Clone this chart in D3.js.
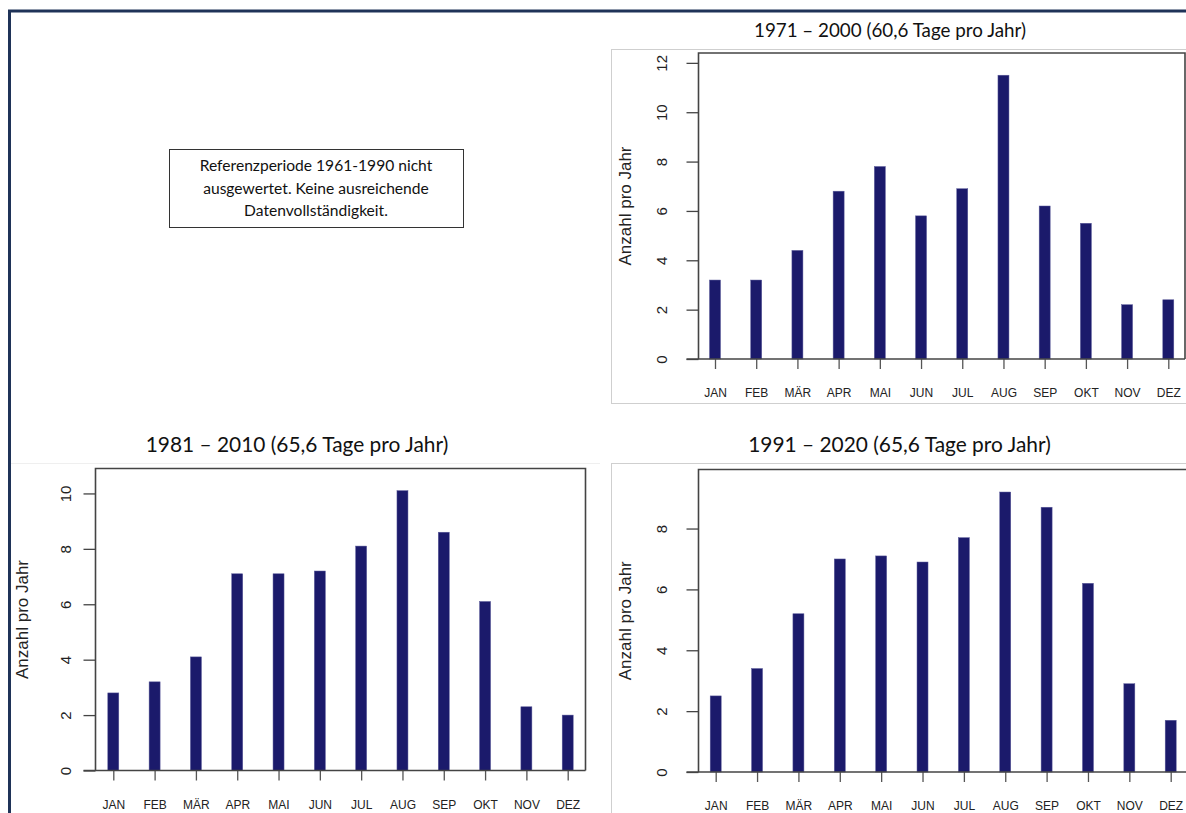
<!DOCTYPE html>
<html>
<head>
<meta charset="utf-8">
<script src="https://cdn.jsdelivr.net/npm/d3@7"></script>
<style>
  body { margin: 0; background: #fff; }
  svg { display: block; }
</style>
</head>
<body>
<div id="chart"></div>
<script>
// monthly counts
var months = ["JAN", "FEB", "MÄR", "APR", "MAI", "JUN", "JUL", "AUG", "SEP", "OKT", "NOV", "DEZ"];
var v1971 = [3.2, 3.2, 4.4, 6.8, 7.8, 5.8, 6.9, 11.5, 6.2, 5.5, 2.2, 2.4];
var v1981 = [2.8, 3.2, 4.1, 7.1, 7.1, 7.2, 8.1, 10.1, 8.6, 6.1, 2.3, 2.0];
var v1991 = [2.5, 3.4, 5.2, 7.0, 7.1, 6.9, 7.7, 9.2, 8.7, 6.2, 2.9, 1.7];
var ticks1971 = [0, 2, 4, 6, 8, 10, 12];
var ticks1981 = [0, 2, 4, 6, 8, 10];
var ticks1991 = [0, 2, 4, 6, 8];
var titles = ["1971 – 2000 (60,6 Tage pro Jahr)", "1981 – 2010 (65,6 Tage pro Jahr)", "1991 – 2020 (65,6 Tage pro Jahr)"];
var noteLines = ["Referenzperiode 1961-1990 nicht", "ausgewertet. Keine ausreichende", "Datenvollständigkeit."];
var yTitle = "Anzahl pro Jahr";

var W = 1186, H = 813;
var barColor = "#1b1a6b";
var titleFont = "Lato, 'Open Sans', sans-serif";
var rFont = "'Liberation Sans', Arial, sans-serif";

var svg = d3.select("#chart").append("svg")
    .attr("width", W)
    .attr("height", H);

// dark page frame (top + left edge)
svg.append("path")
    .attr("d", "M9.5," + H + " V11 H" + W)
    .attr("fill", "none")
    .attr("stroke", "#1f3358")
    .attr("stroke-width", 3);

// note box where the 1961-1990 chart would be
svg.append("rect")
    .attr("x", 169.5).attr("y", 149.5)
    .attr("width", 294).attr("height", 78)
    .attr("fill", "#fff")
    .attr("stroke", "#333")
    .attr("stroke-width", 1);
svg.append("g").selectAll("text")
    .data(noteLines)
    .enter().append("text")
    .attr("x", 316)
    .attr("y", function(d, i) { return 171 + i * 22.5; })
    .attr("text-anchor", "middle")
    .attr("font-family", titleFont)
    .attr("font-size", "15.6px")
    .attr("fill", "#111")
    .text(function(d) { return d; });

// faint edge of the pasted 1981-2010 image
svg.append("line")
    .attr("x1", 11).attr("x2", 600)
    .attr("y1", 463.5).attr("y2", 463.5)
    .attr("stroke", "#efefef");

var panels = [
    {values: v1971, ticks: ticks1971, title: titles[0], ymax: 12.4, titleSize: 18.8,
     left: 698.5, right: 1185, top: 53, bottom: 359, x0: 715, x1: 1168.3,
     titleX: 890, titleY: 37, ylabX: 625, tickX: 662, monthY: 397,
     frame: {x: 611.5, y: 49.5, w: 600, h: 354}, boxRight: true},
    {values: v1981, ticks: ticks1981, title: titles[1], ymax: 10.9, titleSize: 20.9,
     left: 95.5, right: 585.5, top: 468.5, bottom: 770.5, x0: 113.3, x1: 567.7,
     titleX: 297, titleY: 452, ylabX: 22, tickX: 66, monthY: 809,
     frame: null, boxRight: true},
    {values: v1991, ticks: ticks1991, title: titles[2], ymax: 9.94, titleSize: 20.9,
     left: 698.5, right: 1190, top: 469.5, bottom: 772, x0: 715.7, x1: 1170.7,
     titleX: 899.5, titleY: 452, ylabX: 625, tickX: 662, monthY: 810,
     frame: {x: 611.5, y: 463.5, w: 600, h: 400}, boxRight: false}
];

panels.forEach(function(p) {
    var g = svg.append("g");

    if (p.frame) {
        g.append("rect")
            .attr("x", p.frame.x).attr("y", p.frame.y)
            .attr("width", p.frame.w).attr("height", p.frame.h)
            .attr("fill", "none")
            .attr("stroke", "#cfcfcf")
            .attr("stroke-width", 1);
    }

    g.append("text")
        .attr("x", p.titleX).attr("y", p.titleY)
        .attr("text-anchor", "middle")
        .attr("font-family", titleFont)
        .attr("font-size", p.titleSize + "px")
        .attr("fill", "#111")
        .text(p.title);

    var x = d3.scalePoint()
        .domain(months)
        .range([p.x0, p.x1]);
    var y = d3.scaleLinear()
        .domain([0, p.ymax])
        .range([p.bottom, p.top]);

    // bars
    var bw = 11;
    g.selectAll(".bar")
        .data(p.values)
        .enter().append("rect")
        .attr("class", "bar")
        .attr("x", function(d, i) { return x(months[i]) - bw / 2; })
        .attr("y", function(d) { return y(d); })
        .attr("width", bw)
        .attr("height", function(d) { return y(0) - y(d); })
        .attr("fill", barColor)
        .attr("stroke", "#5a5a9a")
        .attr("stroke-width", 0.5);

    // plot box: top, left, right
    var boxPath = "M" + p.left + "," + p.bottom + " V" + p.top + " H" + p.right;
    if (p.boxRight) boxPath += " V" + p.bottom;
    g.append("path")
        .attr("d", boxPath)
        .attr("fill", "none")
        .attr("stroke", "#444")
        .attr("stroke-width", 1.6);

    // y axis, R style with rotated labels
    var yAxis = d3.axisLeft(y)
        .tickValues(p.ticks)
        .tickSize(12)
        .tickFormat(d3.format("d"));
    var ya = g.append("g")
        .attr("transform", "translate(" + p.left + ",0)")
        .call(yAxis);
    ya.select(".domain").remove();
    ya.selectAll(".tick line").attr("stroke", "#444").attr("stroke-width", 1.3);
    ya.selectAll(".tick text")
        .attr("x", null).attr("dy", null)
        .attr("transform", "translate(" + (p.tickX - p.left) + ",0) rotate(-90)")
        .attr("text-anchor", "middle")
        .attr("dy", "0.35em")
        .attr("font-family", rFont)
        .attr("font-size", "15px")
        .attr("fill", "#222");

    // baseline plus month ticks
    var xAxis = d3.axisBottom(x)
        .tickSize(10)
        .tickSizeOuter(0);
    var xa = g.append("g")
        .attr("transform", "translate(0," + p.bottom + ")")
        .call(xAxis);
    xa.select(".domain").remove();
    xa.selectAll(".tick line").attr("stroke", "#555").attr("stroke-width", 1.3);
    xa.selectAll(".tick text")
        .attr("y", p.monthY - p.bottom)
        .attr("dy", null)
        .attr("font-family", rFont)
        .attr("font-size", "12px")
        .attr("fill", "#222");
    g.append("line")
        .attr("x1", p.left - 12).attr("x2", p.right)
        .attr("y1", p.bottom).attr("y2", p.bottom)
        .attr("stroke", "#444")
        .attr("stroke-width", 1.6);

    g.append("text")
        .attr("transform", "translate(" + p.ylabX + "," + ((p.top + p.bottom) / 2) + ") rotate(-90)")
        .attr("text-anchor", "middle")
        .attr("dy", "0.35em")
        .attr("font-family", rFont)
        .attr("font-size", "17px")
        .attr("fill", "#222")
        .text(yTitle);
});
</script>
</body>
</html>
